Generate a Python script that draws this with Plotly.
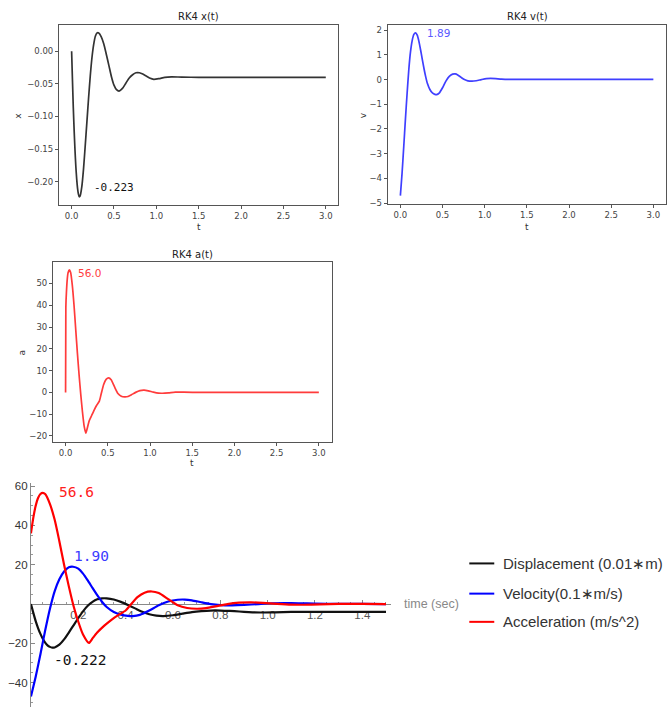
import plotly.graph_objects as go

W, H = 667, 711

# ---------------- data ----------------
# RK4 x(t)
T_X = [0, 0.01, 0.02, 0.03, 0.04, 0.05, 0.06, 0.07, 0.08, 0.09, 0.10,
       0.12, 0.14, 0.16, 0.18, 0.20, 0.22, 0.24, 0.26, 0.28, 0.30, 0.32,
       0.35, 0.38, 0.41, 0.44, 0.47, 0.50, 0.53, 0.56,
       0.60, 0.64, 0.68, 0.72, 0.76, 0.80, 0.84, 0.88, 0.92,
       0.97, 1.03, 1.10, 1.18, 1.30, 1.50, 2.00, 2.50, 3.00]
X_VALS = [0, -0.045, -0.087, -0.122, -0.152, -0.177, -0.196, -0.210, -0.219, -0.223, -0.222,
          -0.208, -0.181, -0.146, -0.109, -0.072, -0.038, -0.010, 0.010, 0.023, 0.028, 0.028,
          0.022, 0.011, -0.005, -0.022, -0.039, -0.052, -0.059, -0.061,
          -0.057, -0.049, -0.041, -0.036, -0.033, -0.033, -0.035, -0.038, -0.041,
          -0.043, -0.042, -0.040, -0.0393, -0.0397, -0.040, -0.040, -0.040, -0.040]

# RK4 v(t)
T_V = [0, 0.02, 0.04, 0.06, 0.08, 0.10, 0.12, 0.14, 0.16, 0.18,
       0.20, 0.22, 0.24, 0.26, 0.28, 0.30, 0.32, 0.35, 0.38, 0.41, 0.43, 0.46, 0.50, 0.54,
       0.58, 0.62, 0.65, 0.68, 0.72, 0.76, 0.80, 0.85, 0.90, 0.96, 1.02, 1.07, 1.13,
       1.20, 1.30, 1.50, 2.00, 2.50, 3.00]
V_VALS = [-4.70, -3.80, -2.72, -1.60, -0.55, 0.40, 1.12, 1.58, 1.83, 1.89,
          1.80, 1.55, 1.20, 0.82, 0.45, 0.12, -0.15, -0.40, -0.54, -0.60, -0.61, -0.55, -0.33, -0.06,
          0.13, 0.22, 0.23, 0.19, 0.09, 0.00, -0.05, -0.065, -0.045, 0.00, 0.04, 0.05, 0.04,
          0.02, 0.01, 0.01, 0.01, 0.01, 0.01]

# RK4 a(t)
T_A = [0, 0.003, 0.01, 0.02, 0.03, 0.045, 0.06, 0.08, 0.10, 0.12,
       0.14, 0.16, 0.18, 0.20, 0.22, 0.24, 0.26, 0.28, 0.31, 0.34, 0.37, 0.40, 0.42,
       0.45, 0.48, 0.51, 0.54, 0.58, 0.62, 0.66, 0.70, 0.74, 0.78, 0.83, 0.88, 0.93,
       0.98, 1.04, 1.10, 1.15, 1.22, 1.30, 1.40, 1.60, 2.00, 2.50, 3.00]
A_VALS = [0, 39, 46, 52, 55, 56.2, 55, 49, 40, 29,
          18, 8, -1, -9, -15.5, -18.7, -16, -13, -10.5, -8, -5.8, -4, -1,
          3.5, 6, 6.7, 5.8, 2.5, -0.5, -1.8, -2.1, -1.9, -1.1, 0.0, 0.8, 1.0,
          0.7, 0.1, -0.35, -0.4, -0.2, 0.1, 0.1, 0.0, 0, 0, 0]

# Combined plot (scaled units)
T_D2 = [0, 0.01, 0.02, 0.03, 0.04, 0.05, 0.06, 0.07, 0.08, 0.09, 0.10,
        0.12, 0.14, 0.16, 0.18, 0.20, 0.22, 0.24, 0.26, 0.28, 0.30, 0.32,
        0.35, 0.38, 0.41, 0.44, 0.47, 0.50, 0.53, 0.56,
        0.60, 0.64, 0.68, 0.72, 0.76, 0.80, 0.84, 0.88, 0.92,
        0.97, 1.03, 1.10, 1.18, 1.30, 1.40, 1.50]
DISP = [0, -4.5, -8.7, -12.2, -15.2, -17.7, -19.6, -21.0, -21.8, -22.2, -22.1,
        -20.7, -18.0, -14.5, -10.8, -7.1, -3.7, -0.9, 1.1, 2.4, 2.9, 2.9,
        2.3, 1.1, -0.5, -2.2, -3.9, -5.2, -5.9, -6.1,
        -5.7, -4.9, -4.1, -3.6, -3.3, -3.3, -3.5, -3.8, -4.1,
        -4.3, -4.2, -4.0, -3.93, -3.97, -4.0, -4.0]

T_V2 = [0, 0.02, 0.04, 0.06, 0.08, 0.10, 0.12, 0.14, 0.16, 0.178,
        0.20, 0.22, 0.24, 0.26, 0.28, 0.30, 0.32, 0.35, 0.38, 0.41, 0.43, 0.46, 0.50, 0.54,
        0.58, 0.62, 0.65, 0.68, 0.72, 0.76, 0.80, 0.85, 0.90, 0.96, 1.02, 1.07, 1.13,
        1.20, 1.30, 1.40, 1.50]
VEL = [-47, -37, -25.5, -13.5, -2.5, 6.5, 12.6, 16.6, 18.7, 19.0,
       18.0, 15.5, 12.0, 8.2, 4.5, 1.2, -1.5, -4.0, -5.4, -6.0, -6.1, -5.5, -3.3, -0.6,
       1.3, 2.2, 2.3, 1.9, 0.9, 0.0, -0.5, -0.65, -0.45, 0.0, 0.4, 0.5, 0.4,
       0.2, 0.1, 0.05, 0.0]

T_A2 = [0, 0.01, 0.02, 0.03, 0.04, 0.05, 0.06, 0.08, 0.10, 0.12,
        0.14, 0.16, 0.18, 0.20, 0.22, 0.245, 0.26, 0.28, 0.31, 0.34, 0.37, 0.40, 0.42,
        0.45, 0.48, 0.51, 0.54, 0.58, 0.62, 0.66, 0.70, 0.74, 0.78, 0.83, 0.88, 0.93,
        0.98, 1.04, 1.10, 1.15, 1.22, 1.30, 1.40, 1.50]
ACC = [36, 44, 50, 54, 56, 56.6, 56, 51, 43, 32,
       20, 9, -1, -9, -15.5, -19.8, -17.5, -14.5, -11, -8, -5.5, -3.3, -0.5,
       3.5, 5.8, 6.4, 5.6, 2.5, -0.6, -2.0, -2.4, -2.1, -1.2, 0.0, 0.7, 0.9,
       0.6, 0.1, -0.3, -0.35, -0.2, 0.05, 0.05, 0.0]

LEGEND_NAMES = ["Displacement (0.01∗m)", "Velocity(0.1∗m/s)", "Acceleration (m/s^2)"]
PEAK_LABELS = {"x": "-0.223", "v": "1.89", "a": "56.0",
               "acc": "56.6", "vel": "1.90", "disp": "-0.222"}

for a, b in [(T_X, X_VALS), (T_V, V_VALS), (T_A, A_VALS),
             (T_D2, DISP), (T_V2, VEL), (T_A2, ACC)]:
    assert len(a) == len(b), (len(a), len(b))


def px(p):
    return p / W


def py(p):
    return 1 - p / H


fig = go.Figure()

MPL_FONT = "DejaVu Sans"
MA_FONT = "Liberation Sans"
MONO = "DejaVu Sans Mono"

# ---------------- traces ----------------
fig.add_trace(go.Scatter(x=T_X, y=X_VALS, mode="lines", xaxis="x", yaxis="y",
                         line=dict(color="#333333", width=1.7, shape="spline", smoothing=0.6),
                         showlegend=False))
fig.add_trace(go.Scatter(x=T_V, y=V_VALS, mode="lines", xaxis="x2", yaxis="y2",
                         line=dict(color="#3f3fff", width=1.7, shape="spline", smoothing=0.6),
                         showlegend=False))
fig.add_trace(go.Scatter(x=T_A, y=A_VALS, mode="lines", xaxis="x3", yaxis="y3",
                         line=dict(color="#ff3b3b", width=1.7, shape="spline", smoothing=0.5),
                         showlegend=False))
fig.add_trace(go.Scatter(x=T_D2, y=DISP, mode="lines", xaxis="x4", yaxis="y4",
                         name=LEGEND_NAMES[0],
                         line=dict(color="#111111", width=2.2, shape="spline", smoothing=0.6),
                         showlegend=False))
fig.add_trace(go.Scatter(x=T_V2, y=VEL, mode="lines", xaxis="x4", yaxis="y4",
                         name=LEGEND_NAMES[1],
                         line=dict(color="#0000ff", width=2.2, shape="spline", smoothing=0.6),
                         showlegend=False))
fig.add_trace(go.Scatter(x=T_A2, y=ACC, mode="lines", xaxis="x4", yaxis="y4",
                         name=LEGEND_NAMES[2],
                         line=dict(color="#ff0000", width=2.2, shape="spline", smoothing=0.6),
                         showlegend=False))

# ---------------- axes ----------------
mpl_axis = dict(showline=True, mirror=True, linecolor="#555555", linewidth=1,
                ticks="outside", ticklen=3, tickwidth=1, tickcolor="#555555",
                showgrid=False, zeroline=False,
                tickfont=dict(family=MPL_FONT, size=8.5, color="#444444"))

fig.update_layout(
    xaxis=dict(domain=[px(59), px(339)], range=[-0.15, 3.15], anchor="y",
               tickmode="linear", tick0=0, dtick=0.5, tickformat=".1f", **mpl_axis),
    yaxis=dict(domain=[py(204), py(22)], range=[-0.2356, 0.0405], anchor="x",
               tickmode="linear", tick0=0, dtick=0.05, tickformat=".2f", **mpl_axis),
    xaxis2=dict(domain=[px(388.3), 1.0], range=[-0.15, 3.15], anchor="y2",
                tickmode="linear", tick0=0, dtick=0.5, tickformat=".1f", **mpl_axis),
    yaxis2=dict(domain=[py(202.8), py(22)], range=[-5.03, 2.22], anchor="x2",
                tickmode="linear", tick0=0, dtick=1, **mpl_axis),
    xaxis3=dict(domain=[px(53), px(332)], range=[-0.15, 3.15], anchor="y3",
                tickmode="linear", tick0=0, dtick=0.5, tickformat=".1f", **mpl_axis),
    yaxis3=dict(domain=[py(443.3), py(261.8)], range=[-22.75, 59.75], anchor="x3",
                tickmode="linear", tick0=0, dtick=10, **mpl_axis),
    xaxis4=dict(domain=[px(31), px(392)], range=[0, 1.523], anchor="free",
                position=py(607), showline=True, linecolor="#888888", linewidth=1,
                ticks="inside", ticklen=4, tickcolor="#888888",
                tickvals=[0.2, 0.4, 0.6, 0.8, 1.0, 1.2, 1.4], tickformat=".1f",
                minor=dict(tickmode="linear", tick0=0, dtick=0.05, ticks="inside",
                           ticklen=2.5, tickcolor="#999999"),
                showgrid=False, zeroline=False, layer="below traces",
                tickfont=dict(family=MA_FONT, size=11.5, color="#555555")),
    yaxis4=dict(domain=[0, py(485)], range=[-52.4, 61.5], anchor="x4",
                showline=True, linecolor="#888888", linewidth=1,
                ticks="inside", ticklen=4, tickcolor="#888888",
                tickvals=[-40, -20, 20, 40, 60],
                minor=dict(tickmode="linear", tick0=0, dtick=5, ticks="inside",
                           ticklen=2.5, tickcolor="#999999"),
                showgrid=False, zeroline=False, layer="below traces",
                tickfont=dict(family=MA_FONT, size=11.5, color="#333333")),
)

# ---------------- text ----------------
ann = []


def paper_text(text, x, y, size, color="#222222", family=MPL_FONT, angle=0,
               xanchor="center", yanchor="middle"):
    ann.append(dict(text=text, x=px(x), y=py(y), xref="paper", yref="paper",
                    showarrow=False, textangle=angle, xanchor=xanchor, yanchor=yanchor,
                    font=dict(family=family, size=size, color=color)))


# matplotlib titles and axis labels
paper_text("RK4 x(t)", 199, 14, 10)
paper_text("RK4 v(t)", 528, 14, 10)
paper_text("RK4 a(t)", 193, 254, 10)
paper_text("t", 199, 226, 9, color="#333333")
paper_text("t", 528, 226, 9, color="#333333")
paper_text("t", 192, 465, 9, color="#333333")
paper_text("x", 18, 114, 9, color="#333333", angle=-90)
paper_text("v", 363, 113, 9, color="#333333", angle=-90)
paper_text("a", 22, 353, 9, color="#333333", angle=-90)

# peak labels in data coordinates
ann.append(dict(text=PEAK_LABELS["x"], x=0.24, y=-0.209, xref="x", yref="y",
                showarrow=False, xanchor="left", yanchor="middle",
                font=dict(family=MONO, size=11, color="#111111")))
ann.append(dict(text=PEAK_LABELS["v"], x=0.295, y=1.88, xref="x2", yref="y2",
                showarrow=False, xanchor="left", yanchor="middle",
                font=dict(family=MPL_FONT, size=10.5, color="#5a5aff")))
ann.append(dict(text=PEAK_LABELS["a"], x=0.122, y=55, xref="x3", yref="y3",
                showarrow=False, xanchor="left", yanchor="middle",
                font=dict(family=MPL_FONT, size=10.5, color="#ff4040")))
ann.append(dict(text=PEAK_LABELS["acc"], x=0.108, y=57, xref="x4", yref="y4",
                showarrow=False, xanchor="left", yanchor="middle",
                font=dict(family=MONO, size=14.5, color="#ff2020")))
ann.append(dict(text=PEAK_LABELS["vel"], x=0.172, y=24.5, xref="x4", yref="y4",
                showarrow=False, xanchor="left", yanchor="middle",
                font=dict(family=MONO, size=14.5, color="#3a3aff")))
ann.append(dict(text=PEAK_LABELS["disp"], x=0.087, y=-28.7, xref="x4", yref="y4",
                showarrow=False, xanchor="left", yanchor="middle",
                font=dict(family=MONO, size=14.5, color="#111111")))

paper_text("time (sec)", 403, 607, 12.5, color="#888888", family=MA_FONT, xanchor="left")

# manual legend
LEG_COLORS = ["#111111", "#0000ff", "#ff0000"]
LEG_Y = [566, 596.5, 625]
shapes = []
for name, col, yy in zip(LEGEND_NAMES, LEG_COLORS, LEG_Y):
    shapes.append(dict(type="line", xref="paper", yref="paper",
                       x0=px(470), x1=px(495), y0=py(yy), y1=py(yy),
                       line=dict(color=col, width=2)))
    paper_text(name, 502, yy, 15, color="#333333", family=MA_FONT, xanchor="left")

fig.update_layout(
    width=W, height=H, margin=dict(l=0, r=0, t=0, b=0),
    paper_bgcolor="white", plot_bgcolor="white",
    showlegend=False, annotations=ann, shapes=shapes,
)

fig.write_html("out.html")
